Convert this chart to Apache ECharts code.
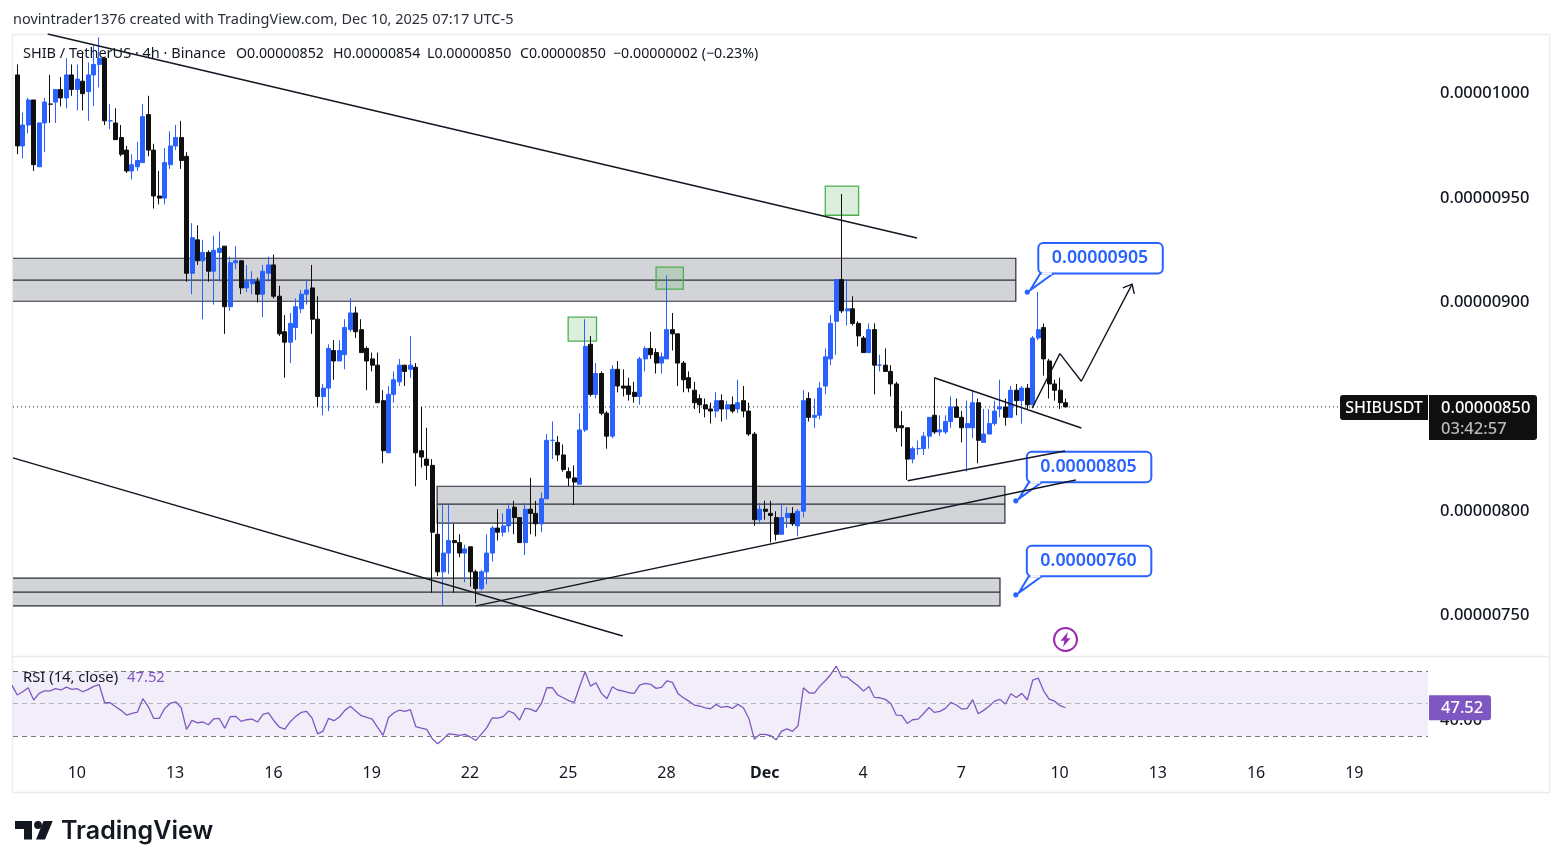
<!DOCTYPE html>
<html>
<head>
<meta charset="utf-8">
<title>SHIB / TetherUS 4h</title>
<script src="https://cdn.jsdelivr.net/npm/echarts@6/dist/echarts.min.js"></script>
<style>
  html, body { margin: 0; padding: 0; background: #ffffff; }
  #chart { width: 1563px; height: 868px; }
</style>
</head>
<body>
<div id="chart"></div>
<script>
// Prices are stored in units of 0.00000001 USDT, the pair's tick size.
const opens = [
  1009,975,985,997,965,986,995,996,1002,998,
  1009,1002,1006,1001,1009,1014,1017,987,986,979,
  973,963,965,967,990,973,951,950,966,975,
  979,970,914,930,920,924,915,924,927,898,
  919,920,907,909,910,904,914,918,903,886,
  881,888,897,904,907,892,855,859,877,872,
  875,887,895,887,878,873,870,853,828,856,
  862,870,868,869,829,825,822,789,771,780,
  786,785,780,783,771,763,771,780,792,790,
  793,802,797,785,801,799,794,806,834,833,
  827,819,816,813,839,880,856,866,847,836,
  868,860,860,857,855,873,878,876,871,873,
  887,885,871,864,858,854,851,849,848,853,
  849,851,849,853,848,837,796,801,799,797,
  789,797,799,793,800,854,845,846,860,873,
  891,911,896,897,890,883,876,887,870,870,
  867,861,841,840,825,830,830,836,846,838,
  838,843,850,845,840,840,852,833,837,842,
  849,850,845,858,853,859,851,883,888,872,
  861,858,852
];
const highs = [
  1014,991,998,997,986,998,1009,1002,1008,1017,
  1014,1014,1019,1015,1023,1027,1017,995,993,985,
  975,971,977,995,999,976,963,974,982,985,
  987,972,938,937,930,925,932,934,927,922,
  927,920,918,915,912,918,922,923,908,894,
  895,902,906,911,918,903,861,880,882,882,
  892,902,898,892,879,876,876,858,860,867,
  873,870,884,871,850,840,825,801,803,803,
  794,789,784,783,772,772,789,793,801,799,
  804,805,797,804,816,805,809,837,843,836,
  832,821,822,847,892,884,871,867,848,870,
  872,868,864,862,874,879,886,878,876,913,
  895,885,872,867,862,856,854,852,857,856,
  853,855,863,860,852,838,804,805,805,800,
  804,802,802,801,858,857,854,862,878,894,
  911,952,911,903,891,884,890,890,875,878,
  870,862,848,840,831,834,838,845,864,846,
  846,855,854,848,853,858,854,849,849,853,
  863,854,860,861,860,861,884,905,890,873,
  863,864,854
];
const lows = [
  971,969,981,963,965,972,986,986,994,993,
  999,992,992,987,994,1003,985,983,978,970,
  962,959,963,967,970,945,947,947,964,973,
  964,910,904,918,892,910,899,910,885,896,
  916,904,905,904,900,893,910,902,884,864,
  871,882,895,899,885,850,846,848,863,872,
  868,886,883,876,858,867,852,823,828,852,
  860,860,864,812,821,815,761,769,755,770,
  761,778,766,764,756,762,765,776,786,788,
  790,789,785,779,789,788,790,806,825,824,
  819,812,803,813,838,855,854,846,830,835,
  857,855,853,852,851,867,873,866,866,873,
  877,860,857,857,849,847,845,842,845,843,
  844,847,847,845,836,793,794,796,785,786,
  789,792,793,788,797,843,840,844,856,870,
  875,895,889,889,879,876,876,856,867,867,
  855,838,831,815,823,827,827,830,837,836,
  837,840,845,833,819,835,823,833,837,841,
  845,841,845,846,842,849,851,882,865,854,
  853,849,850
];
const closes = [
  975,985,997,966,986,996,995,1002,998,1009,
  1002,1007,1000,1009,1014,1017,987,987,978,971,
  963,966,968,989,973,951,950,967,975,979,
  968,914,931,920,924,915,925,926,898,919,
  920,907,910,911,904,915,918,903,885,881,
  890,898,904,906,892,855,859,878,872,877,
  888,895,886,876,872,870,852,829,856,863,
  870,867,870,828,826,822,790,771,780,786,
  785,780,782,771,763,771,780,792,790,793,
  801,797,785,801,799,794,806,834,834,827,
  820,816,814,839,879,856,866,847,836,868,
  860,859,856,855,873,878,875,871,874,887,
  885,871,863,859,852,851,849,848,853,849,
  851,848,852,848,837,796,801,800,798,789,
  797,799,794,800,853,845,846,859,874,890,
  911,896,897,890,884,876,887,870,870,867,
  861,840,840,825,830,830,836,845,838,839,
  843,850,845,840,842,852,834,837,842,848,
  850,845,858,853,859,851,883,887,873,861,
  858,852,850
];
// RSI(14) readings; the first one belongs to the bar just left of the visible range.
const rsiValues = [
  61.5,
  55.4,57.4,59.9,52.3,56.4,58.0,58.0,59.3,58.5,60.3,
  58.9,59.3,57.4,58.9,60.7,61.8,50.6,50.6,48.1,45.9,
  43.0,44.0,44.8,53.1,48.1,40.9,40.9,47.1,50.2,51.2,
  47.7,34.1,39.7,38.2,38.7,37.0,40.7,40.9,34.9,42.0,
  42.2,39.1,40.1,40.5,38.7,43.4,44.4,39.5,35.6,34.3,
  38.9,42.2,44.6,45.3,41.1,31.4,33.1,40.9,39.5,41.8,
  45.9,48.4,45.5,42.6,41.5,40.5,35.4,30.4,41.5,44.4,
  46.1,45.3,46.3,35.8,34.9,34.1,28.4,25.3,28.1,31.4,
  31.0,30.4,31.0,29.4,27.3,31.2,35.2,41.3,41.1,42.0,
  45.5,44.0,39.9,47.1,46.7,45.1,50.2,59.9,59.9,55.4,
  53.7,51.9,50.8,60.5,69.8,60.9,63.0,56.4,53.1,60.5,
  58.5,57.8,56.8,56.4,61.5,62.6,62.0,59.5,60.1,64.2,
  63.2,56.4,53.7,51.6,49.2,48.6,47.5,46.9,49.6,47.7,
  48.4,47.1,49.6,47.5,40.9,28.1,31.0,31.0,30.2,27.7,
  33.1,34.5,32.9,36.4,59.9,56.8,56.6,60.9,64.2,68.1,
  73.3,66.5,66.5,63.6,61.1,57.8,60.7,53.9,53.7,52.7,
  50.2,43.0,42.8,37.8,40.1,40.5,44.0,47.7,44.6,45.3,
  47.1,50.8,49.2,46.7,47.1,52.5,43.8,45.9,48.4,51.6,
  52.7,49.8,56.2,53.9,56.4,52.3,64.6,65.9,58.0,52.9,
  51.6,48.8,47.52
];

// Day labels sit on the first 4h bar of every third day.
const dayTickBars = [11,29,47,65,83,101,119,137,155,173,191,209,227,245];
const dayTickLabels = ['10','13','16','19','22','25','28','Dec','4','7','10','13','16','19'];
const priceTicks = [750,800,850,900,950,1000];
const rsiTicks = [40];
const rsiBands = [70,50,30];

// Session summary shown in the legend row.
const legendFields = ['O0.00000852','H0.00000854','L0.00000850','C0.00000850','\u22120.00000002 (\u22120.23%)'];

// Drawings, in [bar index, price] terms.
const priceZones = [ // from bar, to bar, top, middle, bottom
  [-2,182.9,921.2,910.7,900.6],
  [76.9,180.9,812,803.4,794.3],
  [-2,180,768,761.3,754.7]
];
const highlightBoxes = [ // from bar, to bar, top, bottom
  [100.9,106.1,893,881.5],
  [117,122,916.9,906.4],
  [148,154.1,955.7,941.8]
];
const trendLines = [
  [[5.57,1028.6],[164.8,930.9]],
  [[-0.79,825.6],[110.9,740.3]],
  [[84,754.7],[193.9,815]],
  [[163.1,814.6],[191.9,828.9]],
  [[167.95,864],[194.9,839.9]]
];
const projectionPath = [[185.9,849.4],[190.97,875.5],[194.9,862.3],[204.2,908.8]];
const targetCallouts = [[185,905],[182.9,805],[182.9,760]];

const UP = '#2962ff';
const DOWN = '#0f0f0f';
const INK = '#131722';
const RSI_COLOR = '#7e57c2';
const FONT = '"Noto Sans", "Open Sans", sans-serif';
const BAR_MIN = -0.788;
const BAR_MAX = 258.4;
const lastClose = closes[closes.length - 1];
const lastRsi = rsiValues[rsiValues.length - 1];
const legendX = [236, 333, 427, 520, 613];

const formatPrice = v => (v * 1e-8).toFixed(8);

const candles = opens.map((o, i) => [i, o, closes[i], lows[i], highs[i]]);
const rsiLine = rsiValues.map((v, i) => [i - 1, v]);

function renderZone(params, api) {
  const tl = api.coord([api.value(0), api.value(2)]);
  const br = api.coord([api.value(1), api.value(4)]);
  const midY = api.coord([api.value(0), api.value(3)])[1];
  const line = { stroke: '#2a2e39', lineWidth: 1.2 };
  return {
    type: 'group',
    children: [
      { type: 'rect', shape: { x: tl[0], y: tl[1], width: br[0] - tl[0], height: br[1] - tl[1] },
        style: { fill: '#d3d4d7', stroke: '#2a2e39', lineWidth: 1.2 } },
      { type: 'line', shape: { x1: tl[0], y1: midY, x2: br[0], y2: midY }, style: line }
    ]
  };
}

function renderBox(params, api) {
  const tl = api.coord([api.value(0), api.value(2)]);
  const br = api.coord([api.value(1), api.value(3)]);
  return {
    type: 'rect',
    shape: { x: tl[0], y: tl[1], width: br[0] - tl[0], height: br[1] - tl[1] },
    style: { fill: 'rgba(76,175,80,0.2)', stroke: '#4caf50', lineWidth: 1.3 }
  };
}

function renderCallout(params, api) {
  const p = api.coord([api.value(0), api.value(1)]);
  const bx = p[0] + 11, by = p[1] - 49, bw = 124.5, bh = 30.5;
  return {
    type: 'group',
    children: [
      { type: 'polygon', shape: { points: [[p[0] + 3, p[1] - 2], [bx + 2, by + bh], [bx + 15, by + bh]] },
        style: { fill: '#ffffff', stroke: UP, lineWidth: 2 } },
      { type: 'rect', shape: { x: bx, y: by, width: bw, height: bh, r: 5 },
        style: { fill: '#ffffff', stroke: UP, lineWidth: 2 } },
      { type: 'line', shape: { x1: bx + 3.5, y1: by + bh, x2: bx + 13.5, y2: by + bh },
        style: { stroke: '#ffffff', lineWidth: 2.4 } },
      { type: 'circle', shape: { cx: p[0], cy: p[1], r: 2.6 }, style: { fill: UP } },
      { type: 'text', style: { text: formatPrice(api.value(1)), x: bx + bw / 2 - 0.5, y: by + bh / 2,
        fill: UP, font: '600 17.8px ' + FONT, textAlign: 'center', textVerticalAlign: 'middle' } }
    ]
  };
}

function renderArrowHead(params, api) {
  const tip = api.coord([api.value(2), api.value(3)]);
  const from = api.coord([api.value(0), api.value(1)]);
  const a = Math.atan2(tip[1] - from[1], tip[0] - from[0]);
  const arm = s => [tip[0] - 10 * Math.cos(a + s), tip[1] - 10 * Math.sin(a + s)];
  return {
    type: 'polyline',
    shape: { points: [arm(0.7), tip, arm(-0.7)] },
    style: { fill: 'none', stroke: INK, lineWidth: 1.4 }
  };
}

function renderPriceTag(params, api) {
  const p = api.coord([BAR_MAX, api.value(0)]);
  const x = p[0], y = p[1];
  return {
    type: 'group',
    children: [
      { type: 'rect', shape: { x: x - 88, y: y - 12, width: 88, height: 25, r: [3, 0, 0, 3] }, style: { fill: DOWN } },
      { type: 'text', style: { text: 'SHIBUSDT', x: x - 44, y: y + 1.5, fill: '#ffffff',
        font: '500 16px ' + FONT, textAlign: 'center', textVerticalAlign: 'middle' } },
      { type: 'rect', shape: { x: x + 1, y: y - 12, width: 108, height: 45, r: [0, 3, 3, 0] }, style: { fill: DOWN } },
      { type: 'text', style: { text: formatPrice(api.value(0)), x: x + 13, y: y + 1.5, fill: '#ffffff',
        font: '500 16.5px ' + FONT, textAlign: 'left', textVerticalAlign: 'middle' } },
      { type: 'text', style: { text: '03:42:57', x: x + 13, y: y + 22, fill: '#b8b8b8',
        font: '500 16.5px ' + FONT, textAlign: 'left', textVerticalAlign: 'middle' } }
    ]
  };
}

function renderRsiTag(params, api) {
  const p = api.coord([BAR_MAX, api.value(0)]);
  return {
    type: 'group',
    children: [
      { type: 'rect', shape: { x: p[0] + 1, y: p[1] - 12.5, width: 62, height: 25, r: [0, 3, 3, 0] }, style: { fill: RSI_COLOR } },
      { type: 'text', style: { text: api.value(0).toFixed(2), x: p[0] + 13, y: p[1] + 1, fill: '#ffffff',
        font: '500 16.5px ' + FONT, textAlign: 'left', textVerticalAlign: 'middle' } }
    ]
  };
}

const chart = echarts.init(document.getElementById('chart'), null, { renderer: 'canvas' });

const drawingSeries = trendLines.map(pts => ({
  type: 'line', data: pts, xAxisIndex: 0, yAxisIndex: 0, z: 6, showSymbol: false, symbol: 'none',
  clip: true, silent: true, lineStyle: { color: INK, width: 1.5 }
}));

chart.setOption({
  animation: false,
  backgroundColor: '#ffffff',
  textStyle: { fontFamily: FONT },
  grid: [
    { left: 13, right: 135, top: 34, height: 622 },
    { left: 13, right: 135, top: 657, height: 98 }
  ],
  xAxis: [
    { type: 'value', gridIndex: 0, min: BAR_MIN, max: BAR_MAX, show: false, splitLine: { show: false } },
    { type: 'value', gridIndex: 1, min: BAR_MIN, max: BAR_MAX,
      axisLine: { show: false }, axisTick: { show: false }, splitLine: { show: false },
      axisLabel: {
        customValues: dayTickBars, margin: 10, color: INK, fontSize: 16, fontFamily: FONT, padding: [0, 1, 0, 0],
        formatter: v => {
          const t = dayTickLabels[dayTickBars.indexOf(v)];
          return t === 'Dec' ? '{b|Dec}' : t;
        },
        rich: { b: { fontWeight: 700, fontSize: 16, color: INK, fontFamily: FONT } }
      } }
  ],
  yAxis: [
    { type: 'value', gridIndex: 0, position: 'right', min: 730.7, max: 1028.6,
      axisLine: { show: false }, axisTick: { show: false }, splitLine: { show: false },
      axisLabel: { customValues: priceTicks, margin: 12, color: INK, fontSize: 16.5, fontFamily: FONT,
        fontWeight: 500, padding: [5, 0, 0, 0], formatter: v => formatPrice(v) } },
    { type: 'value', gridIndex: 1, position: 'right', min: 18.3, max: 78.9,
      axisLine: { show: false }, axisTick: { show: false }, splitLine: { show: false },
      axisLabel: { customValues: rsiTicks, margin: 12, color: INK, fontSize: 16.5, fontFamily: FONT,
        fontWeight: 500, padding: [3, 0, 0, 0], formatter: v => v.toFixed(2) } }
  ],
  graphic: [
    { type: 'rect', z: -1, shape: { x: 12.5, y: 34.5, width: 1537, height: 758 },
      style: { fill: 'none', stroke: '#ebecef', lineWidth: 1.5 } },
    { type: 'line', z: -1, shape: { x1: 13, y1: 656.5, x2: 1550, y2: 656.5 },
      style: { stroke: '#ebecef', lineWidth: 1.5 } },
    { type: 'text', style: { text: 'novintrader1376 created with TradingView.com, Dec 10, 2025 07:17 UTC-5',
      x: 13, y: 20, fill: '#2a2e39', font: '14.5px ' + FONT, textVerticalAlign: 'middle' } },
    { type: 'text', z: 20, style: { text: 'SHIB / TetherUS \u00b7 4h \u00b7 Binance',
      x: 23, y: 54, fill: INK, font: '14.5px ' + FONT, textVerticalAlign: 'middle' } },
    ...legendFields.map((t, i) => ({ type: 'text', z: 20, style: { text: t, x: legendX[i], y: 54, fill: INK,
      font: '14.2px ' + FONT, textVerticalAlign: 'middle' } })),
    { type: 'text', z: 20, style: { text: 'RSI (14, close)', x: 23, y: 678, fill: INK,
      font: '14.8px ' + FONT, textVerticalAlign: 'middle' } },
    { type: 'text', z: 20, style: { text: lastRsi.toFixed(2), x: 127, y: 678, fill: RSI_COLOR,
      font: '14.8px ' + FONT, textVerticalAlign: 'middle' } },
    // alert marker under the last bars
    { type: 'circle', shape: { cx: 1065.5, cy: 639.5, r: 11.5 },
      style: { fill: '#ffffff', stroke: '#9c27b0', lineWidth: 2 } },
    { type: 'polygon', shape: { points: [[1068, 632], [1060.5, 640.8], [1064.5, 640.8], [1063, 647], [1070.5, 638.2], [1066.5, 638.2]] },
      style: { fill: '#9c27b0' } },
    // TradingView wordmark
    { type: 'polygon', shape: { points: [[15, 821], [32, 821], [32, 839.5], [24, 839.5], [24, 829], [15, 829]] },
      style: { fill: INK } },
    { type: 'circle', shape: { cx: 38, cy: 825, r: 3.9 }, style: { fill: INK } },
    { type: 'polygon', shape: { points: [[43.5, 821], [52.7, 821], [45, 839.5], [36, 839.5]] },
      style: { fill: INK } },
    { type: 'text', style: { text: 'TradingView', x: 61, y: 831.5, fill: INK,
      font: '600 25px Inter, ' + FONT, textVerticalAlign: 'middle' } }
  ],
  series: [
    { type: 'custom', name: 'zones', renderItem: renderZone, data: priceZones, xAxisIndex: 0, yAxisIndex: 0,
      z: 1, clip: true, silent: true },
    { type: 'custom', name: 'boxes', renderItem: renderBox, data: highlightBoxes, xAxisIndex: 0, yAxisIndex: 0,
      z: 2, clip: true, silent: true },
    { type: 'line', name: 'last price', xAxisIndex: 0, yAxisIndex: 0, z: 3, symbol: 'none', silent: true,
      data: [[BAR_MIN, lastClose], [242.2, lastClose]],
      lineStyle: { color: INK, width: 1, type: [1, 3] } },
    { type: 'candlestick', name: 'SHIBUSDT', data: candles, xAxisIndex: 0, yAxisIndex: 0, z: 4,
      barWidth: 4.5, clip: true,
      encode: { x: 0, y: [1, 2, 3, 4] },
      itemStyle: { color: UP, color0: DOWN, borderColor: UP, borderColor0: DOWN, borderColorDoji: null, borderWidth: 1 } },
    { type: 'custom', name: 'targets', renderItem: renderCallout, data: targetCallouts, xAxisIndex: 0, yAxisIndex: 0,
      z: 5, silent: true },
    ...drawingSeries,
    { type: 'line', name: 'projection', data: projectionPath, xAxisIndex: 0, yAxisIndex: 0, z: 6, symbol: 'none', silent: true,
      lineStyle: { color: INK, width: 1.4 } },
    { type: 'custom', name: 'projection head', renderItem: renderArrowHead, xAxisIndex: 0, yAxisIndex: 0, z: 6, silent: true,
      data: [[...projectionPath[projectionPath.length - 2], ...projectionPath[projectionPath.length - 1]]] },
    { type: 'custom', name: 'price tag', renderItem: renderPriceTag, data: [[lastClose]], xAxisIndex: 0, yAxisIndex: 0,
      z: 10, clip: false, silent: true, encode: { y: 0 } },
    { type: 'line', name: 'RSI', data: rsiLine, xAxisIndex: 1, yAxisIndex: 1, z: 4, symbol: 'none', silent: true, clip: true,
      lineStyle: { color: RSI_COLOR, width: 1.3 },
      markArea: { silent: true, itemStyle: { color: 'rgba(126,87,194,0.1)' }, data: [[{ yAxis: rsiBands[2] }, { yAxis: rsiBands[0] }]] },
      markLine: { silent: true, symbol: 'none', label: { show: false }, animation: false, data: [
        { yAxis: rsiBands[0], lineStyle: { color: '#787b86', type: [5, 4], width: 1 } },
        { yAxis: rsiBands[1], lineStyle: { color: 'rgba(120,123,134,0.5)', type: [5, 4], width: 1 } },
        { yAxis: rsiBands[2], lineStyle: { color: '#787b86', type: [5, 4], width: 1 } }
      ] } },
    { type: 'custom', name: 'rsi tag', renderItem: renderRsiTag, data: [[lastRsi]], xAxisIndex: 1, yAxisIndex: 1,
      z: 10, clip: false, silent: true, encode: { y: 0 } }
  ]
});
</script>
</body>
</html>
